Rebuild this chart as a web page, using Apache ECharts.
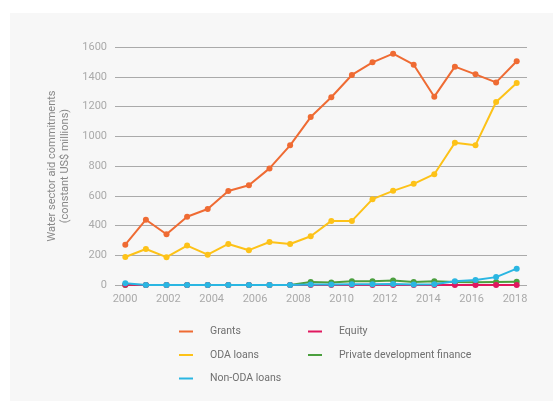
<!DOCTYPE html>
<html>
<head>
<meta charset="utf-8">
<script src="https://cdn.jsdelivr.net/npm/echarts@6/dist/echarts.min.js"></script>
<style>
html,body{margin:0;padding:0;background:#fff;}
#c{width:555px;height:401px;}
</style>
</head>
<body>
<div id="c"></div>
<script>
var categories = ['2000','2001','2002','2003','2004','2005','2006','2007','2008','2009','2010','2011','2012','2013','2014','2015','2016','2017','2018','2019'];
var grants = [271,439,341,459,511,632,670,784,939,1129,1262,1412,1497,1555,1481,1266,1468,1416,1362,1504];
var odaLoans = [188,242,187,265,204,276,234,289,276,328,431,431,577,633,680,745,956,940,1230,1358];
var privateDev = [0,0,0,0,0,0,0,0,0,20,16,25,25,31,20,25,20,18,20,22];
var equity = [1,0,0,0,0,0,0,0,0,0,0,0,0,0,0,0,0,0,0,0];
var nonOda = [11,0,0,0,0,0,0,0,0,4,4,5,5,6,4,5,25,34,53,110];
var xTickMin = 2000, xTickMax = 2018, xTickStep = 2;
var yMax = 1600, yStep = 200;

var font = 'Roboto, "Noto Sans", sans-serif';
var chart = echarts.init(document.getElementById('c'), null, {renderer:'canvas'});

function line(name, data, color, z){
  return {name:name, type:'line', data:data, xAxisIndex:0, yAxisIndex:0,
    symbol:'circle', symbolSize:6, showSymbol:true, z:z,
    lineStyle:{color:color, width:2}, itemStyle:{color:color},
    emphasis:{disabled:true}, animation:false};
}
var legendText = {color:'#707070', fontSize:10.5, fontFamily:font, padding:[0,0,0,12], lineHeight:13, height:13};

chart.setOption({
  backgroundColor:'#ffffff',
  animation:false,
  graphic:[{type:'rect', shape:{x:10,y:13,width:543,height:388}, style:{fill:'#f7f7f7'}, z:-10}],
  grid:[
    {left:115, right:28, top:47, bottom:116, containLabel:false},
    {left:125, right:40, top:47, bottom:116, containLabel:false}
  ],
  xAxis:[
    {type:'category', gridIndex:0, data:categories, boundaryGap:true,
     axisLine:{show:false}, axisTick:{show:false}, axisLabel:{show:false}, splitLine:{show:false}},
    {type:'value', gridIndex:1, min:xTickMin, max:xTickMax, interval:xTickStep,
     axisLine:{show:false}, axisTick:{show:false}, splitLine:{show:false},
     axisLabel:{color:'#aaaaaa', fontSize:11, fontFamily:font, margin:9,
       formatter:function(v){return String(v);}}}
  ],
  yAxis:[
    {type:'value', gridIndex:0, min:0, max:yMax, interval:yStep,
     name:'Water sector aid commitments\n(constant US$ millions)',
     nameLocation:'middle', nameGap:39, nameRotate:90,
     nameTextStyle:{color:'#888888', fontSize:11, fontFamily:font, lineHeight:13},
     axisLine:{show:false}, axisTick:{show:false},
     axisLabel:{color:'#aaaaaa', fontSize:11, fontFamily:font, margin:8,
       formatter:function(v){return String(v);}},
     splitLine:{lineStyle:{color:'#aaaaaa', width:1}}},
    {type:'value', gridIndex:1, show:false, min:0, max:yMax}
  ],
  legend:[
    {orient:'vertical', left:179, top:325, height:80, padding:0, itemWidth:14, itemHeight:2, itemGap:10.5, icon:'rect',
     data:['Grants','ODA loans','Non-ODA loans'], textStyle:legendText},
    {orient:'vertical', left:308, top:325, height:80, padding:0, itemWidth:14, itemHeight:2, itemGap:10.5, icon:'rect',
     data:['Equity','Private development finance'], textStyle:legendText}
  ],
  series:[
    line('Grants', grants, '#ef6b33', 2),
    line('ODA loans', odaLoans, '#fdc218', 3),
    line('Private development finance', privateDev, '#4b9f3e', 4),
    line('Equity', equity, '#e0185f', 5),
    line('Non-ODA loans', nonOda, '#2ab6e2', 6)
  ]
});
</script>
</body>
</html>
